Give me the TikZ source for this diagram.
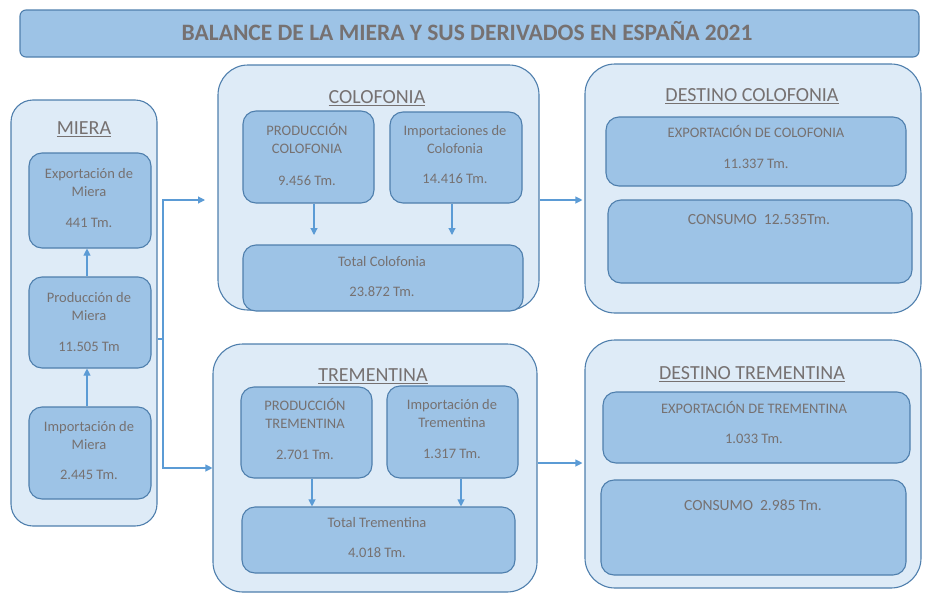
\documentclass[tikz,border=0pt]{standalone}
\usepackage{fontspec}
\setmainfont{Carlito}
\usetikzlibrary{arrows.meta}
\definecolor{outerfill}{HTML}{DEEBF7}
\definecolor{innerfill}{HTML}{9DC3E6}
\definecolor{bordercol}{HTML}{4F7FAD}
\definecolor{txtgray}{HTML}{767171}
\definecolor{arrowcol}{HTML}{5B9BD5}
\tikzset{
  outerbox/.style={draw=bordercol, fill=outerfill, line width=1.1pt, rounded corners=#1, inner sep=0pt},
  innerbox/.style={draw=bordercol, fill=innerfill, line width=1.1pt, rounded corners=13pt, inner sep=0pt},
  titlebox/.style={draw=bordercol, fill=innerfill, line width=1.1pt, rounded corners=6pt, inner sep=0pt},
  titletxt/.style={text=txtgray, inner sep=0pt, anchor=base, font=\fontsize{23.5}{28}\selectfont\bfseries},
  secttxt/.style={text=txtgray, inner sep=0pt, anchor=base, font=\fontsize{20}{24}\selectfont},
  txt/.style={text=txtgray, align=center, inner sep=0pt, font=\fontsize{14.5}{18}\selectfont},
  bigtxt/.style={text=txtgray, align=center, inner sep=0pt, font=\fontsize{15.5}{18}\selectfont},
  plainline/.style={draw=arrowcol, line width=1.1pt},
  arr/.style={draw=arrowcol, line width=1.1pt, -{Triangle[length=7pt,width=7pt]}}
}
\newcommand\placebox[6]{\node[#1, minimum width={(#4)-(#2)}, minimum height={(#5)-(#3)}] (#6) at ({((#2)+(#4))/2},{((#3)+(#5))/2}) {};}
\begin{document}
\begin{tikzpicture}[x=1pt,y=-1pt]
\useasboundingbox (0,0) rectangle (941,597);
% title
\placebox{titlebox}{20}{10}{919}{57}{title}
\node[titletxt] (titletext) at (467,40.5) {BALANCE DE LA MIERA Y SUS DERIVADOS EN ESPAÑA 2021};
% outer containers
\placebox{outerbox=22pt}{11}{100}{157}{526}{miera}
\placebox{outerbox=30pt}{218}{65}{539}{310}{colo}
\placebox{outerbox=30pt}{585}{64}{921}{313}{dcolo}
\placebox{outerbox=30pt}{213}{344}{537}{592}{treme}
\placebox{outerbox=30pt}{585}{340}{921}{588}{dtreme}
% section titles
\node[secttxt] (tmiera) at (84,134.4) {\underline{MIERA}};
\node[secttxt] (tcolo) at (377,103.4) {\underline{COLOFONIA}};
\node[secttxt] (tdcolo) at (752,101.4) {\underline{DESTINO COLOFONIA}};
\node[secttxt] (ttreme) at (373,381.4) {\underline{TREMENTINA}};
\node[secttxt] (tdtreme) at (752,379.4) {\underline{DESTINO TREMENTINA}};
% miera inner boxes
\placebox{innerbox}{29}{153}{151}{248}{exp}
\placebox{innerbox}{29}{277}{151}{368}{prod}
\placebox{innerbox}{29}{407}{151}{499}{imp}
\node[txt] (exptxt) at (89,199) {\strut Exportación de\\Miera\\[13pt]441 Tm.\strut};
\node[txt] (prodtxt) at (89,323.5) {\strut Producción de\\Miera\\[13pt]11.505 Tm\strut};
\node[txt] (imptxt) at (89,452) {\strut Importación de\\Miera\\[12pt]2.445 Tm.\strut};
% colofonia inner boxes
\placebox{innerbox}{243}{111}{374}{203}{pc}
\placebox{innerbox}{390}{112}{522}{203}{ic}
\placebox{innerbox}{243}{245}{523}{311}{tc}
\node[txt] (pctxt) at (307,156.5) {\strut PRODUCCIÓN\\COLOFONIA\\[14pt]9.456 Tm.\strut};
\node[txt] (ictxt) at (455,155.5) {\strut Importaciones de\\Colofonia\\[12pt]14.416 Tm.\strut};
\node[txt] (tctxt) at (382,278) {\strut Total Colofonia\\[12pt]23.872 Tm.\strut};
% trementina inner boxes
\placebox{innerbox}{241}{387}{372}{478}{pt}
\placebox{innerbox}{387}{386}{518}{478}{it}
\placebox{innerbox}{242}{507}{515}{573}{tt}
\node[txt] (pttxt) at (305,431.5) {\strut PRODUCCIÓN\\TREMENTINA\\[13pt]2.701 Tm.\strut};
\node[txt] (ittxt) at (452,430.5) {\strut Importación de\\Trementina\\[13pt]1.317 Tm.\strut};
\node[txt] (tttxt) at (377,539) {\strut Total Trementina\\[12pt]4.018 Tm.\strut};
% destino colofonia
\placebox{innerbox}{606}{117}{906}{186}{ec}
\placebox{innerbox}{608}{200}{912}{283}{cc}
\node[txt] (ectxt) at (756,149.5) {\strut EXPORTACIÓN DE COLOFONIA\\[13pt]11.337 Tm.\strut};
\node[bigtxt] (cctxt) at (759,221) {\strut CONSUMO\ \ 12.535Tm.};
% destino trementina
\placebox{innerbox}{603}{392}{910}{463}{et}
\placebox{innerbox}{601}{480}{906}{575}{ct}
\node[txt] (ettxt) at (754,425) {\strut EXPORTACIÓN DE TREMENTINA\\[12pt]1.033 Tm.\strut};
\node[bigtxt] (cttxt) at (753,507) {\strut CONSUMO\ \ 2.985 Tm.};
% connectors
\coordinate (j) at (163,339);
\coordinate (c1) at (205,200);
\coordinate (c2) at (560,463);
\draw[plainline] (miera.east |- j) -- (j);
\draw[arr] (j) |- (c1);
\draw[arr] (j) |- (treme.west);
\draw[arr] (colo.east |- c1) -- ([xshift=-2pt]dcolo.west |- c1);
\draw[arr] (treme.east |- c2) -- ([xshift=-2pt]dtreme.west |- c2);
\coordinate (m1) at (87,0);
\draw[arr] (prod.north -| m1) -- (exp.south -| m1);
\draw[arr] (imp.north -| m1) -- (prod.south -| m1);
\coordinate (a1) at (314,235);
\coordinate (a2) at (452,235);
\draw[arr] (pc.south -| a1) -- (a1);
\draw[arr] (ic.south -| a2) -- (a2);
\coordinate (b1) at (312,0);
\coordinate (b2) at (461,0);
\draw[arr] (pt.south -| b1) -- (tt.north -| b1);
\draw[arr] (it.south -| b2) -- (tt.north -| b2);
\end{tikzpicture}
\end{document}
